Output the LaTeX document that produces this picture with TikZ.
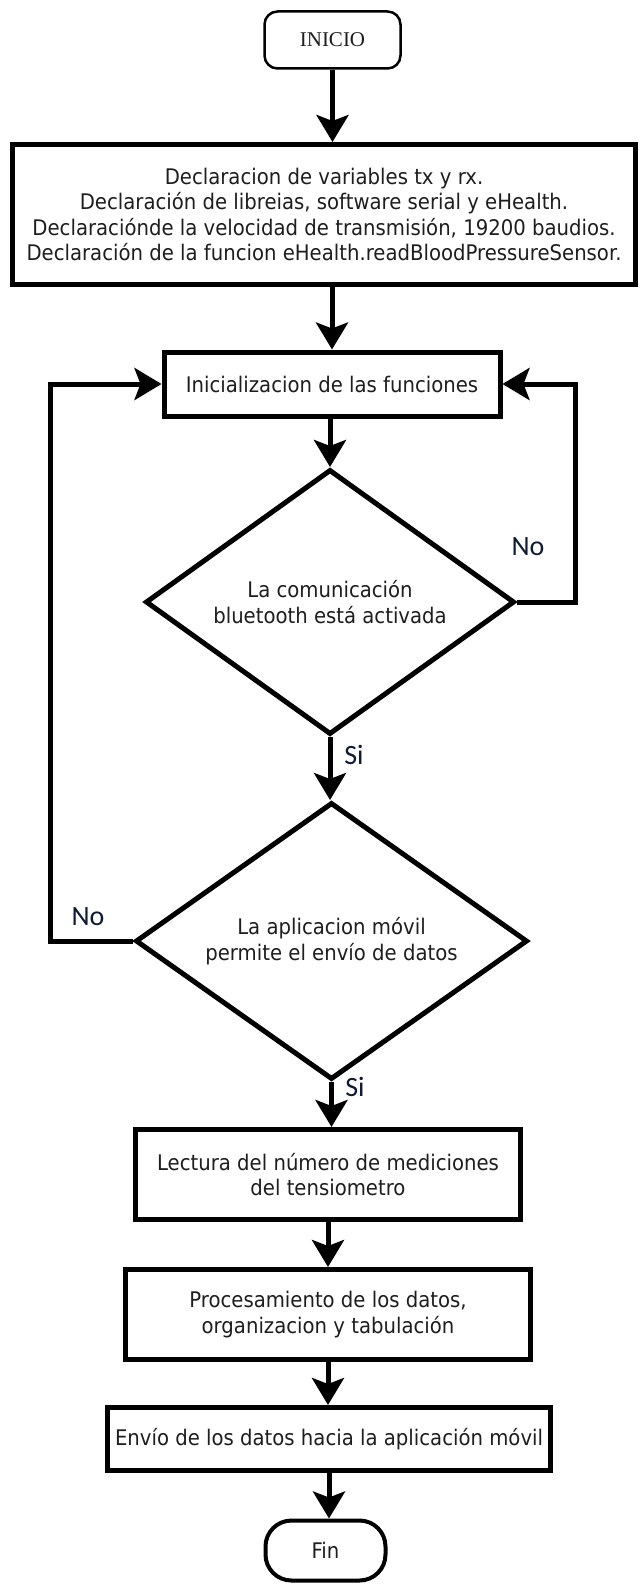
\documentclass[tikz,border=0pt]{standalone}
\usepackage{fontspec}
\setmainfont{DejaVu Sans}[FakeStretch=0.915]
\newfontfamily\iniciofont{Liberation Serif}
\newfontfamily\branchfont{Carlito}
\usetikzlibrary{shapes.geometric,arrows.meta}
\definecolor{txtgray}{HTML}{1E1E1E}
\definecolor{branchnavy}{HTML}{0F1A33}
\tikzset{
  box/.style={draw,line width=5pt,rectangle,inner sep=0pt,align=center,text=txtgray,font=\fontsize{21.5}{25.5}\selectfont},
  decision/.style={draw,line width=5pt,diamond,inner sep=0pt,align=center,text=txtgray,font=\fontsize{21.5}{25.5}\selectfont},
  terminal/.style={draw,rectangle,inner sep=0pt,align=center,text=txtgray},
  flow/.style={line width=5pt,-{Stealth[length=27pt,width=32pt,inset=6pt]}},
  branch/.style={font=\branchfont\fontsize{28}{28}\selectfont,text=branchnavy}
}
\begin{document}
\begin{tikzpicture}[x=1pt,y=-1pt]
    \path[fill=white,use as bounding box](0,0)rectangle(642,1587);
    \node[terminal,line width=2.5pt,rounded corners=13pt,minimum width=136pt,minimum height=57pt,font=\iniciofont\fontsize{21}{21}\selectfont] (inicio) at (332.5,40) {INICIO};
    \node[box,minimum width=623pt,minimum height=140pt] (decl) at (324,214.5) {Declaracion de variables tx y rx.\\Declaración de libreias, software serial y eHealth.\\Declaraciónde la velocidad de transmisión, 19200 baudios.\\Declaración de la funcion eHealth.readBloodPressureSensor.};
    \node[box,minimum width=336pt,minimum height=64pt] (init) at (332,384) {Inicializacion de las funciones};
    \node[decision,aspect=1.39,minimum width=369pt,minimum height=265pt] (bt) at (330,602) {La comunicación\\bluetooth está activada};
    \node[decision,aspect=1.42,minimum width=392pt,minimum height=277pt] (app) at (331.5,941) {La aplicacion móvil\\permite el envío de datos};
    \node[box,minimum width=385pt,minimum height=90pt] (lectura) at (328,1174.5) {Lectura del número de mediciones\\del tensiometro};
    \node[box,minimum width=405pt,minimum height=90pt] (proc) at (328,1314.5) {Procesamiento de los datos,\\organizacion y tabulación};
    \node[box,minimum width=443pt,minimum height=63pt] (envio) at (329,1439) {Envío de los datos hacia la aplicación móvil};
    \node[terminal,line width=4pt,rounded corners=26pt,minimum width=120pt,minimum height=60pt,font=\fontsize{21.5}{21.5}\selectfont] (fin) at (325.5,1550.5) {Fin};
    \coordinate (rbend) at (575,0);
    \coordinate (lbend) at (50,0);
    \draw[flow] (inicio.south) -- (inicio.south |- decl.north);
    \draw[flow] (init.north |- decl.south) -- (init.north);
    \draw[flow] (bt.north |- init.south) -- (bt.north);
    \draw[flow] (bt.south) -- (bt.south |- app.north);
    \draw[flow] (app.south) -- (app.south |- lectura.north);
    \draw[flow] (lectura.south) -- (lectura.south |- proc.north);
    \draw[flow] (proc.south) -- (proc.south |- envio.north);
    \draw[flow] (envio.south) -- (envio.south |- fin.north);
    \draw[flow] (bt.east) -| (rbend |- init.east) -- (init.east);
    \draw[flow] (app.west) -| (lbend |- init.west) -- (init.west);
    \node[branch] (no1) at (528,547) {No};
    \node[branch] (si1) at (354,755) {Si};
    \node[branch] (no2) at (88,917) {No};
    \node[branch] (si2) at (355,1087) {Si};
\end{tikzpicture}
\end{document}
